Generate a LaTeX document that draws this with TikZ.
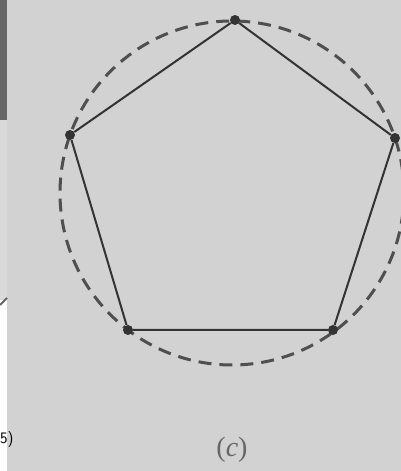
\documentclass[tikz,border=0pt]{standalone}
\usepackage{fontspec}
\setmainfont{Liberation Serif}
\definecolor{paper}{HTML}{D2D2D2}
\definecolor{ink}{HTML}{333333}
\definecolor{dashink}{HTML}{4F4F4F}
\tikzset{
  vertex/.style={circle,fill=ink,inner sep=0pt,minimum size=10pt},
  edge/.style={draw=ink,line width=2pt},
  rim/.style={draw=dashink,line width=3pt,dash pattern=on 13pt off 8pt},
}
\begin{document}
\begin{tikzpicture}[x=1pt,y=1pt]
\useasboundingbox (0,0) rectangle (401,471);
% background panel
\fill[paper] (7,0) rectangle (401,471);
% left strip (neighbouring panel)
\fill[white] (0,0) rectangle (7,471);
\fill[black!60] (0,351) rectangle (7,471);
\fill[black!15] (0,171) rectangle (7,351);
\draw[black!60,line width=2pt] (0,166) -- (7,173);
\node[anchor=west,font=\fontsize{16}{18}\selectfont\sffamily,inner sep=0pt] (b) at (0,31) {5)};
% dashed circle
\node[circle,rim,minimum size=344pt,inner sep=0pt] (circ) at (232,278) {};
% vertices
\node[vertex] (t) at (235,451) {};
\node[vertex] (l) at (70,336) {};
\node[vertex] (r) at (395,333) {};
\node[vertex] (bl) at (128,141) {};
\node[vertex] (br) at (333,141) {};
\draw[edge] (t) -- (r) -- (br) -- (bl) -- (l) -- (t);
% label
\node[text=black!60,font=\fontsize{28}{30}\selectfont] (lab) at (232,21) {(\textit{c})};
\end{tikzpicture}
\end{document}
